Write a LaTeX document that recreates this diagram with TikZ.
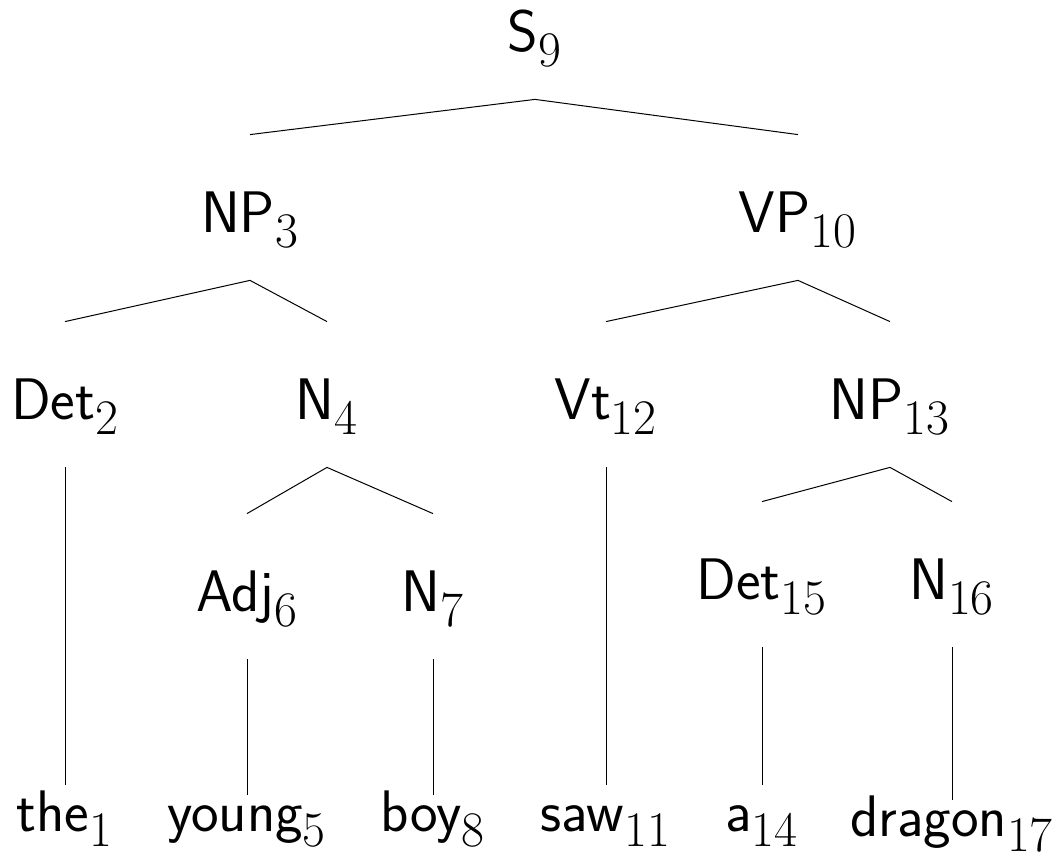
\documentclass[tikz,border=0pt]{standalone}
\usepackage{tikz}
\usetikzlibrary{positioning}
\DeclareMathSizes{29.3}{29.3}{23.7}{17.6}
\begin{document}
\begin{tikzpicture}[x=0.5pt,y=-0.5pt,
  every node/.style={font=\fontsize{29.3}{35}\selectfont\sffamily,anchor=base,inner xsep=0pt,inner ysep=0pt},
  cat/.style={text height=49pt,text depth=23.5pt},
  word/.style={text height=23.5pt},
  shortword/.style={text height=18.5pt},
  branch/.style={line width=0.5pt}]
\useasboundingbox (0,0) rectangle (1057,860);
\node[cat] (S) at (535,52) {S$_{9}$};
\node[cat] (NP3) at (250,233) {NP$_{3}$};
\node[cat] (VP10) at (798,233) {VP$_{10}$};
\node[cat] (Det2) at (65,420) {Det$_{2}$};
\node[cat] (N4) at (327,420) {N$_{4}$};
\node[cat] (Vt12) at (606,420) {Vt$_{12}$};
\node[cat] (NP13) at (890,420) {NP$_{13}$};
\node[cat] (Adj6) at (247,612) {Adj$_{6}$};
\node[cat] (N7) at (433,612) {N$_{7}$};
\node[cat] (Det15) at (762,600) {Det$_{15}$};
\node[cat] (N16) at (952,600) {N$_{16}$};
\node[word] (the1) at (65,832) {the$_{1}$};
\node[shortword] (young5) at (247,832) {young$_{5}$};
\node[shortword] (boy8) at (433,832) {boy$_{8}$};
\node[word] (saw11) at (606,832) {saw$_{11}$};
\node[word] (a14) at (762,832) {a$_{14}$};
\node[shortword] (dragon17) at (952,837) {dragon$_{17}$};
\draw[branch] (NP3.north) -- (S.south) -- (VP10.north);
\draw[branch] (Det2.north) -- (NP3.south) -- (N4.north);
\draw[branch] (Vt12.north) -- (VP10.south) -- (NP13.north);
\draw[branch] (Adj6.north) -- (N4.south) -- (N7.north);
\draw[branch] (Det15.north) -- (NP13.south) -- (N16.north);
\draw[branch] (Det2.south) -- (the1.north);
\draw[branch] (Adj6.south) -- (young5.north);
\draw[branch] (N7.south) -- (boy8.north);
\draw[branch] (Vt12.south) -- (saw11.north);
\draw[branch] (Det15.south) -- (a14.north);
\draw[branch] (N16.south) -- (dragon17.north);
\end{tikzpicture}
\end{document}
